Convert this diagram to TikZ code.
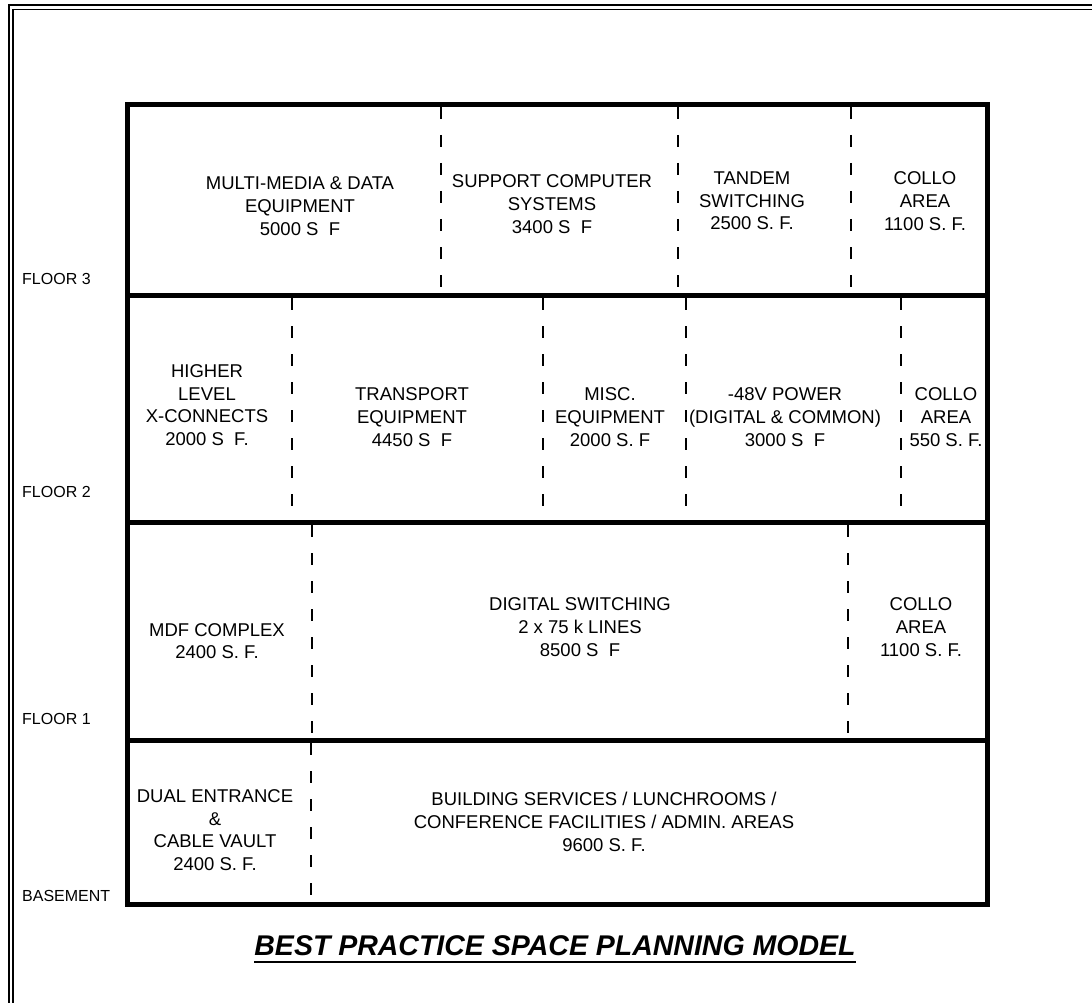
\documentclass[tikz,border=0pt]{standalone}
\usepackage{fontspec}
\setmainfont{Liberation Sans}
\begin{document}
\begin{tikzpicture}[x=1pt,y=-1pt,
  wall/.style={line width=5pt},
  partition/.style={line width=2.6pt, dash pattern=on 12pt off 16pt},
  frameline/.style={line width=1.3pt},
  room/.style={align=center, font=\fontsize{18.5}{22.7}\selectfont, inner sep=0pt},
  floorlabel/.style={anchor=west, font=\fontsize{16}{19}\selectfont, inner sep=0pt},
  heading/.style={font=\fontsize{28.5}{34}\selectfont\bfseries\itshape, inner sep=0pt, anchor=base}]
\useasboundingbox (0,0) rectangle (1092,1003);

% sheet frame: double rule along top and left edges
\draw[frameline] (9,1003) -- (9,5) -- (1092,5);
\draw[frameline] (13,1003) -- (13,9.5) -- (1092,9.5);

% floor levels
\draw[wall] (127.5,104.5) rectangle (987.5,904.5);
\foreach \fy in {295,522,740} \draw[wall] (127.5,\fy) -- (987.5,\fy);

% room partitions, floor 3
\foreach \px in {441,678,851} \draw[partition] (\px,107) -- (\px,293);
% floor 2
\foreach \px in {292,543,686,901} \draw[partition] (\px,298) -- (\px,520);
% floor 1
\foreach \px in {312,848} \draw[partition] (\px,525) -- (\px,738);
% basement
\draw[partition] (311,743) -- (311,902);

% floor names
\node[floorlabel] (f3) at (22,279) {FLOOR 3};
\node[floorlabel] (f2) at (22,492) {FLOOR 2};
\node[floorlabel] (f1) at (22,719) {FLOOR 1};
\node[floorlabel] (fb) at (22,896) {BASEMENT};

% floor 3 rooms
\node[room] (mm) at (300,206) {MULTI-MEDIA \& DATA\\EQUIPMENT\\5000 S\ \ F};
\node[room] (sc) at (552,204) {SUPPORT COMPUTER\\SYSTEMS\\3400 S\ \ F};
\node[room] (ts) at (752,201) {TANDEM\\SWITCHING\\2500 S. F.};
\node[room] (c3) at (925,201) {COLLO\\AREA\\1100 S. F.};

% floor 2 rooms
\node[room] (hx) at (207,405) {HIGHER\\LEVEL\\X-CONNECTS\\2000 S\ \ F.};
\node[room] (te) at (412,417) {TRANSPORT\\EQUIPMENT\\4450 S\ \ F};
\node[room] (me) at (610,417) {MISC.\\EQUIPMENT\\2000 S. F};
\node[room] (pw) at (785,417) {-48V POWER\\(DIGITAL \& COMMON)\\3000 S\ \ F};
\node[room] (c2) at (946,417) {COLLO\\AREA\\550 S. F.};

% floor 1 rooms
\node[room] (mdf) at (217,641) {MDF COMPLEX\\2400 S. F.};
\node[room] (ds) at (580,627) {DIGITAL SWITCHING\\2 x 75 k LINES\\8500 S\ \ F};
\node[room] (c1) at (921,627) {COLLO\\AREA\\1100 S. F.};

% basement rooms
\node[room] (dev) at (215,830) {DUAL ENTRANCE\\\&\\CABLE VAULT\\2400 S. F.};
\node[room] (bs) at (604,822) {BUILDING SERVICES / LUNCHROOMS /\\CONFERENCE FACILITIES / ADMIN. AREAS\\9600 S. F.};

% heading
\node[heading] (title) at (555,955) {BEST PRACTICE SPACE PLANNING MODEL};
\draw[line width=2pt] ([yshift=-7pt]title.base west) -- ([yshift=-7pt]title.base east);
\end{tikzpicture}
\end{document}
